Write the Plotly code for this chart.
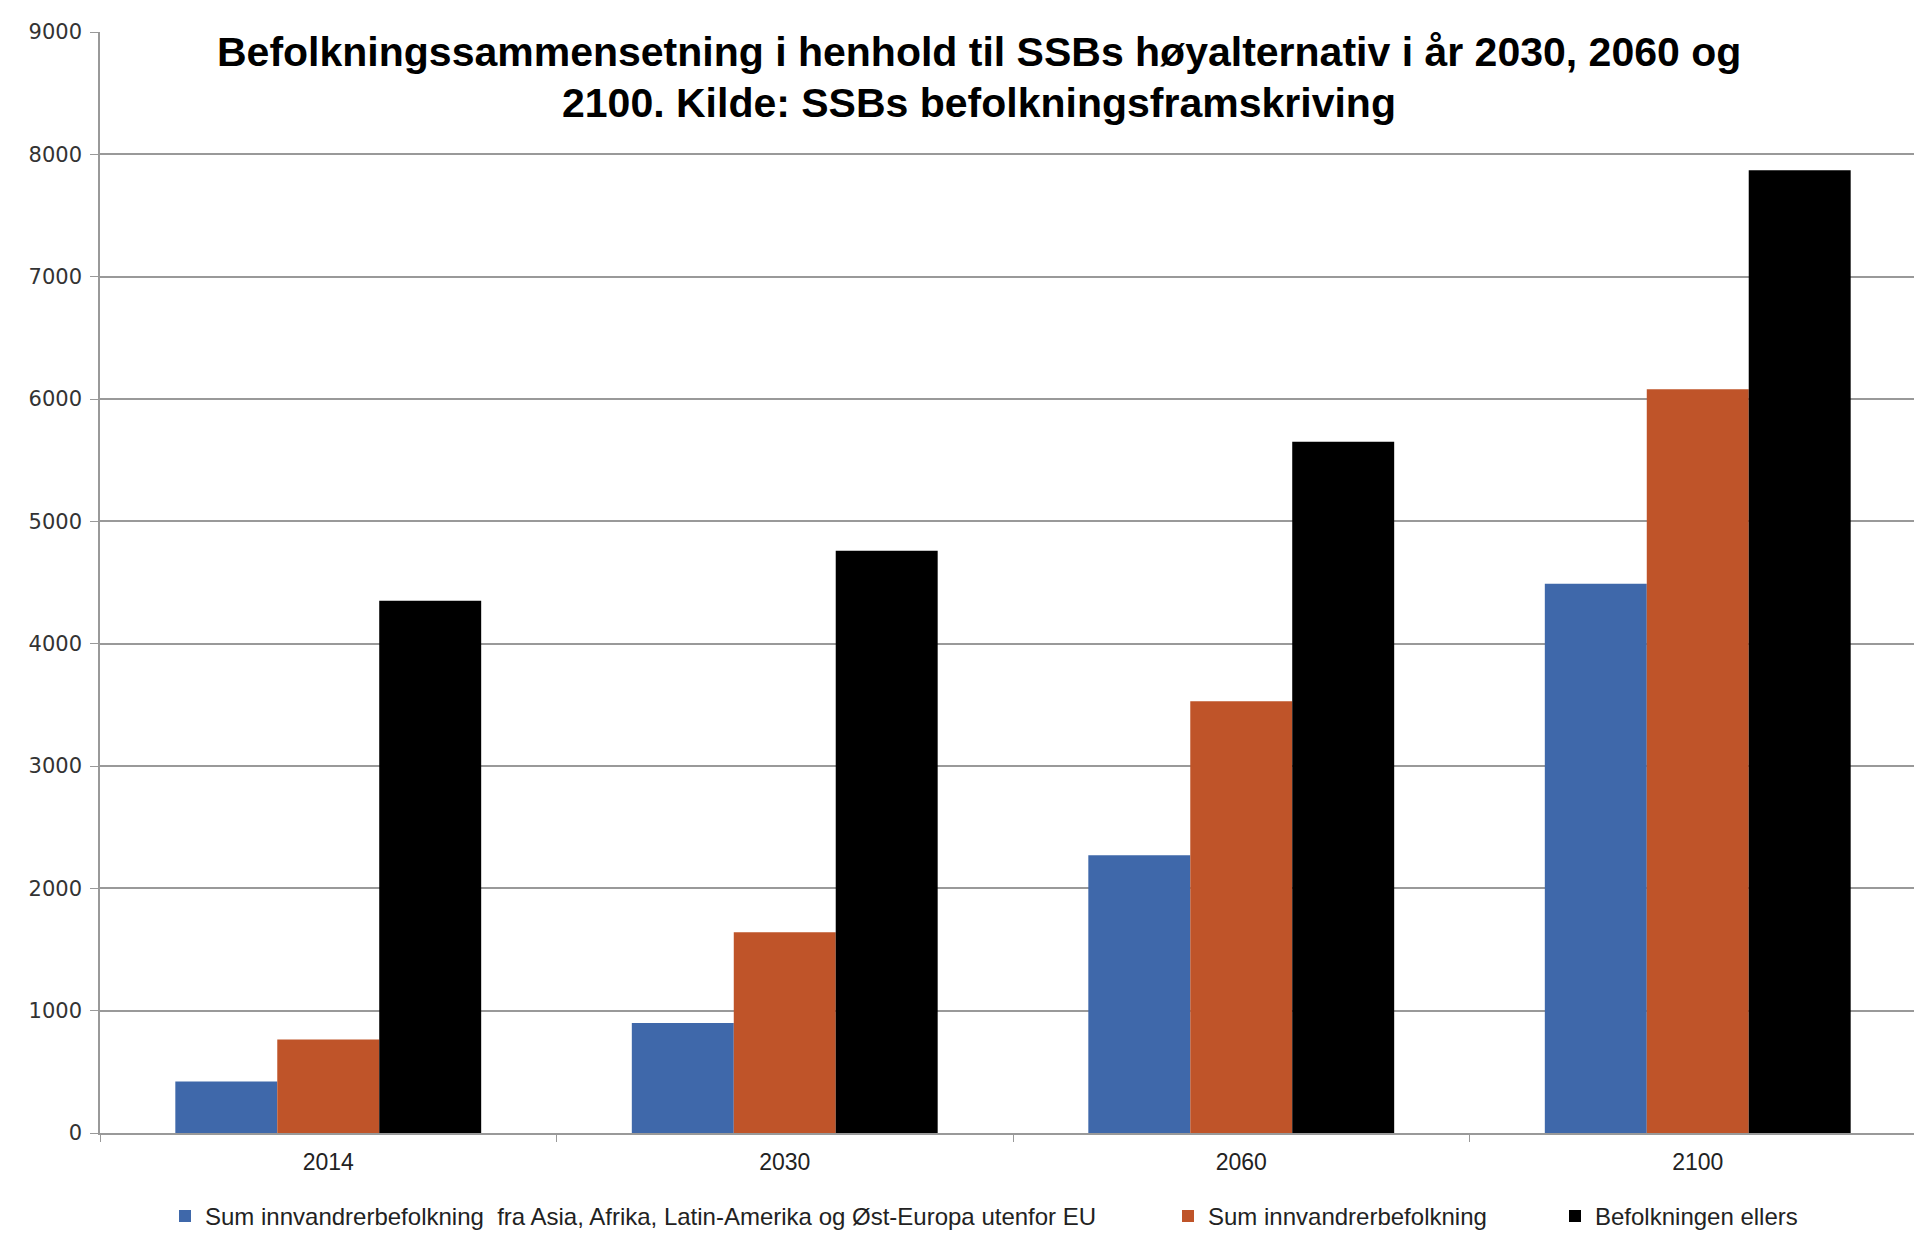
import plotly.graph_objects as go

years = ["2014", "2030", "2060", "2100"]
asia_afrika = [420, 900, 2270, 4490]
innvandrer_sum = [765, 1640, 3530, 6080]
ellers = [4350, 4760, 5650, 7870]

names = [
    "Sum innvandrerbefolkning  fra Asia, Afrika, Latin-Amerika og Øst-Europa utenfor EU",
    "Sum innvandrerbefolkning",
    "Befolkningen ellers",
]
colors = ["#3F68AA", "#BF5429", "#000000"]
y_ticks = [0, 1000, 2000, 3000, 4000, 5000, 6000, 7000, 8000, 9000]

fig = go.Figure()
for i, (vals, nm, col) in enumerate(zip([asia_afrika, innvandrer_sum, ellers], names, colors)):
    fig.add_trace(go.Bar(
        x=years, y=vals, name=nm, marker=dict(color=col, line=dict(width=0)),
        legend="legend" if i == 0 else f"legend{i+1}",
    ))

W, H = 1922, 1235
ml, mr, mt, mb = 92, 4, 24, 101
pw = W - ml - mr
ph = H - mt - mb

def px_x(x):
    return (x - ml) / pw

def px_y(y):
    return 1 - (y - mt) / ph

legend_font = dict(family="Liberation Sans, Arial, sans-serif", size=24, color="#222")
leg_common = dict(orientation="h", yanchor="middle", y=px_y(1218), xanchor="left",
                  font=legend_font, bgcolor="rgba(0,0,0,0)", itemwidth=30)

title_font = dict(family="Liberation Sans, Arial, sans-serif", size=41, color="#000")

fig.update_layout(
    width=W, height=H,
    margin=dict(l=ml, r=mr, t=mt, b=mb),
    paper_bgcolor="white", plot_bgcolor="white",
    barmode="group", bargap=0.33, bargroupgap=0,
    showlegend=True,
    legend=dict(x=px_x(157), **leg_common),
    legend2=dict(x=px_x(1160), **leg_common),
    legend3=dict(x=px_x(1547), **leg_common),
    xaxis=dict(
        type="category", showgrid=False, showline=True, linecolor="#999999", linewidth=1.5,
        ticks="outside", tickson="boundaries", ticklen=7, tickcolor="#999999",
        tickfont=dict(family="Liberation Sans, Arial, sans-serif", size=23, color="#222"),
        ticklabelstandoff=8,
    ),
    yaxis=dict(
        range=[0, 9000], tickvals=y_ticks, showgrid=True, gridcolor="#999999", gridwidth=1.6,
        showline=True, linecolor="#999999", linewidth=1.5, ticks="outside", ticklen=8,
        tickcolor="#999999", zeroline=False,
        tickfont=dict(family="DejaVu Sans, Verdana, sans-serif", size=21, color="#333"),
        ticklabelstandoff=4,
    ),
    annotations=[
        dict(text="<b>Befolkningssammensetning i henhold til SSBs høyalternativ i år 2030, 2060 og</b>",
             x=px_x(971), y=px_y(44), xref="paper", yref="paper", showarrow=False,
             xanchor="center", yanchor="middle", font=title_font),
        dict(text="<b>2100. Kilde: SSBs befolkningsframskriving</b>",
             x=px_x(971), y=px_y(96), xref="paper", yref="paper", showarrow=False,
             xanchor="center", yanchor="middle", font=title_font),
    ],
)

fig.write_html("out.html")
